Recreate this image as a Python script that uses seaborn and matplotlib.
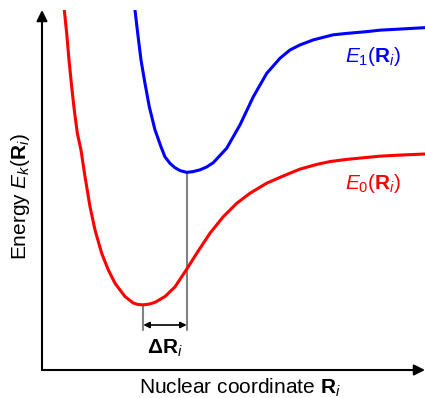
import numpy as np
import pandas as pd
import matplotlib
matplotlib.use("Agg")
import matplotlib.pyplot as plt
import seaborn as sns

# Ground state E0(R) (arbitrary units)
x_e0 = [0.582, 0.645, 0.705, 0.775, 0.843, 0.922, 1.018, 1.123, 1.253, 1.384,
        1.559, 1.731, 1.906, 2.167, 2.384, 2.506, 2.645, 2.800, 2.950, 3.211,
        3.473, 3.778, 4.039, 4.386, 4.734, 5.084, 5.431, 5.867, 6.300, 6.736,
        7.172, 7.520, 7.956, 8.825, 9.347, 10.0]
y_e0 = [10.0, 9.35, 8.61, 7.87, 7.22, 6.58, 6.11, 5.37, 4.54, 3.89,
        3.24, 2.78, 2.41, 2.04, 1.86, 1.82, 1.81, 1.83, 1.88, 2.04,
        2.31, 2.80, 3.24, 3.80, 4.26, 4.63, 4.91, 5.19, 5.39, 5.58,
        5.71, 5.79, 5.85, 5.94, 5.97, 6.0]
# Excited state E1(R)
x_e1 = [2.428, 2.499, 2.585, 2.689, 2.802, 2.950, 3.107, 3.211, 3.342, 3.470,
        3.603, 3.778, 3.940, 4.125, 4.300, 4.473, 4.822, 5.170, 5.517, 5.867,
        6.214, 6.475, 6.736, 7.084, 7.598, 7.956, 8.486, 8.825, 9.347, 10.0]
y_e1 = [10.0, 9.35, 8.61, 7.96, 7.31, 6.67, 6.20, 5.92, 5.74, 5.62,
        5.54, 5.49, 5.51, 5.56, 5.64, 5.76, 6.16, 6.81, 7.59, 8.24,
        8.66, 8.89, 9.03, 9.17, 9.31, 9.35, 9.40, 9.44, 9.47, 9.51]

min_e0 = (2.645, 1.81)
min_e1 = (3.778, 5.49)
arrow_level = 1.25
line_bottom = 1.11

sns.set_theme(style="white")
plt.rcParams['font.family'] = ['Liberation Sans', 'DejaVu Sans']
plt.rcParams['text.color'] = 'black'
plt.rcParams['mathtext.fontset'] = 'custom'
plt.rcParams['mathtext.rm'] = 'Liberation Sans'
plt.rcParams['mathtext.it'] = 'Liberation Sans:italic'
plt.rcParams['mathtext.bf'] = 'Liberation Sans:bold'

W, H = 425, 398
fig = plt.figure(figsize=(W / 100, H / 100), dpi=100)
ax = fig.add_axes([42 / W, (H - 370) / H, (425 - 42) / W, (370 - 10) / H])

df0 = pd.DataFrame({"x": x_e0, "y": y_e0})
df1 = pd.DataFrame({"x": x_e1, "y": y_e1})
sns.lineplot(data=df0, x="x", y="y", ax=ax, color="#ff0000", lw=2.2, estimator=None)
sns.lineplot(data=df1, x="x", y="y", ax=ax, color="#0000ff", lw=2.2, estimator=None)
for ln in ax.lines:
    ln.set_solid_joinstyle("round")

ax.set_xlim(0, 10)
ax.set_ylim(0, 10)
for s in ax.spines.values():
    s.set_visible(False)
ax.set_xticks([])
ax.set_yticks([])
ax.set_xlabel("")
ax.set_ylabel("")

# gray guide lines
ax.plot([min_e0[0], min_e0[0]], [line_bottom, min_e0[1]], color="#808080", lw=1.5, zorder=1)
ax.plot([min_e1[0], min_e1[0]], [line_bottom, min_e1[1]], color="#808080", lw=1.5, zorder=1)
ax.annotate("", xy=(min_e0[0], arrow_level), xytext=(min_e1[0], arrow_level),
            arrowprops=dict(arrowstyle="<|-|>", color="black", lw=1.2,
                            mutation_scale=9, shrinkA=0, shrinkB=0))
ax.text((min_e0[0] + min_e1[0]) / 2, 0.6, "Δ$\\mathbf{R}_{\\mathit{i}}$",
        ha="center", va="center", fontsize=15, fontweight="bold", color="black")

# axes arrows
ax.annotate("", xy=(0, 1.0), xytext=(0, 0), xycoords="axes fraction",
            arrowprops=dict(arrowstyle="-|>", color="black", lw=1.5,
                            mutation_scale=16, shrinkA=0, shrinkB=0), annotation_clip=False)
ax.annotate("", xy=(1.0, 0), xytext=(0, 0), xycoords="axes fraction",
            arrowprops=dict(arrowstyle="-|>", color="black", lw=1.5,
                            mutation_scale=16, shrinkA=0, shrinkB=0), annotation_clip=False)

# labels
fig.text(240 / W, 1 - 388 / H, "Nuclear coordinate $\\mathbf{R}_{\\mathit{i}}$",
         ha="center", va="center", fontsize=15, color="black")
fig.text(21 / W, 1 - 196 / H, "Energy $\\mathit{E}_{\\mathit{k}}(\\mathbf{R}_{\\mathit{i}})$",
         ha="center", va="center", fontsize=15, rotation=90, color="black")
fig.text(373 / W, 1 - 57 / H, "$\\mathit{E}_{1}(\\mathbf{R}_{\\mathit{i}})$",
         ha="center", va="center", fontsize=15, color="#0000ff")
fig.text(373 / W, 1 - 183 / H, "$\\mathit{E}_{0}(\\mathbf{R}_{\\mathit{i}})$",
         ha="center", va="center", fontsize=15, color="#ff0000")

fig.savefig("out.png", dpi=100)
